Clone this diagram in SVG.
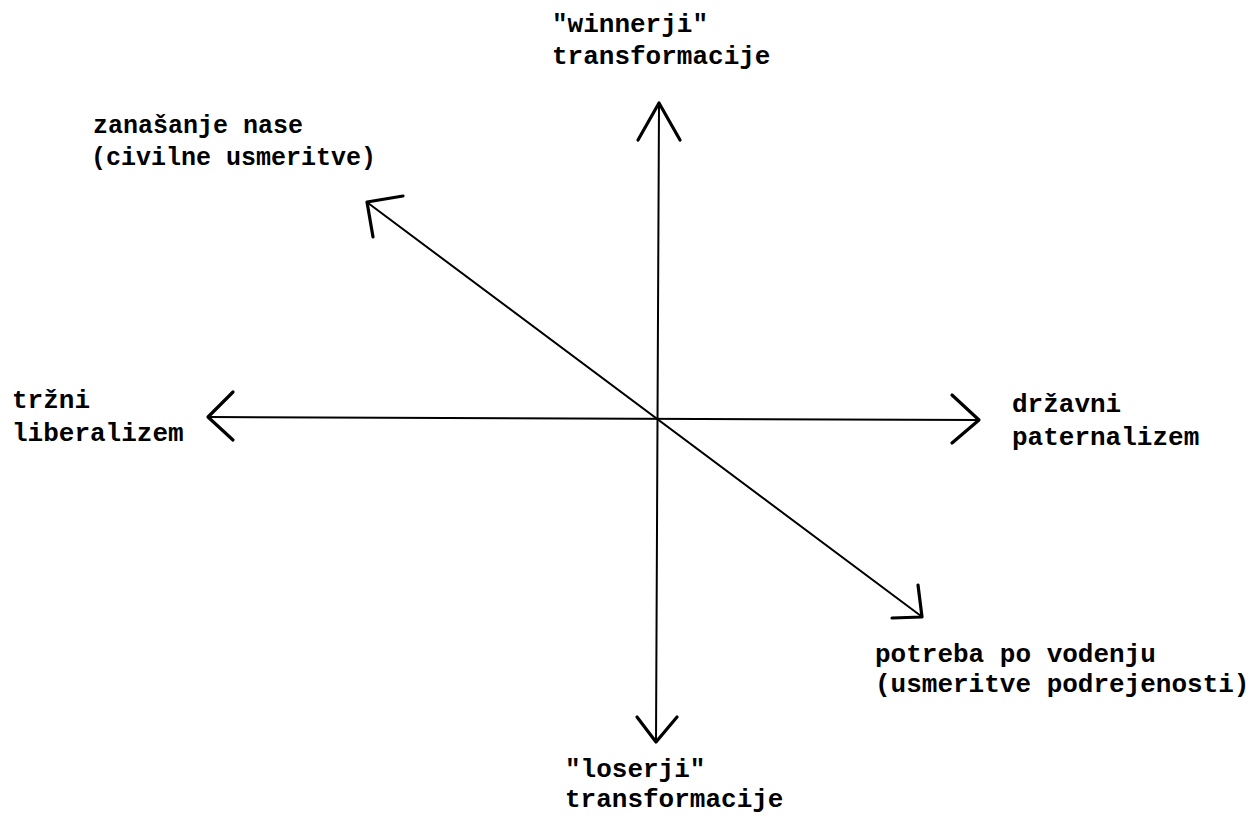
<svg xmlns="http://www.w3.org/2000/svg" width="1256" height="824" viewBox="0 0 1256 824">
<style>
.shaft{stroke:#000;stroke-width:2;fill:none;stroke-linecap:round}
.head{stroke:#000;stroke-width:3.2;fill:none;stroke-linecap:round;stroke-linejoin:round}
.lbl{font-family:"Liberation Mono","Courier New",monospace;font-weight:bold;font-size:26px;fill:#000}
.sm{font-size:25px}
</style>
<rect width="1256" height="824" fill="#fff"/>
<g id="connectors">
<line class="shaft" x1="659" y1="104" x2="656" y2="741"/>
<polyline class="head" points="638,140 659,103 680,140"/>
<polyline class="head" points="637,717 656,742 677,717"/>
<line class="shaft" x1="209" y1="417" x2="978" y2="420"/>
<polyline class="head" points="233,392 208,417 233,440"/>
<polyline class="head" points="952,395 979,420 952,443"/>
<line class="shaft" x1="368" y1="203" x2="921" y2="616"/>
<polyline class="head" points="403,196 367,202 373,237"/>
<polyline class="head" points="918,585 922,617 892,618"/>
</g>
<g id="node-top">
<text class="lbl" x="552" y="32">"winnerji"</text>
<text class="lbl" x="552" y="64">transformacije</text>
</g>
<g id="node-upper-left">
<text class="lbl sm" x="93" y="133">zanašanje nase</text>
<text class="lbl sm" x="91" y="165">(civilne usmeritve)</text>
</g>
<g id="node-left">
<text class="lbl" x="12" y="408">tržni</text>
<text class="lbl" x="12" y="441">liberalizem</text>
</g>
<g id="node-right">
<text class="lbl" x="1012" y="412">državni</text>
<text class="lbl" x="1012" y="445">paternalizem</text>
</g>
<g id="node-lower-right">
<text class="lbl" x="875" y="662">potreba po vodenju</text>
<text class="lbl" x="875" y="692">(usmeritve podrejenosti)</text>
</g>
<g id="node-bottom">
<text class="lbl" x="565" y="777">"loserji"</text>
<text class="lbl" x="565" y="807">transformacije</text>
</g>
</svg>
